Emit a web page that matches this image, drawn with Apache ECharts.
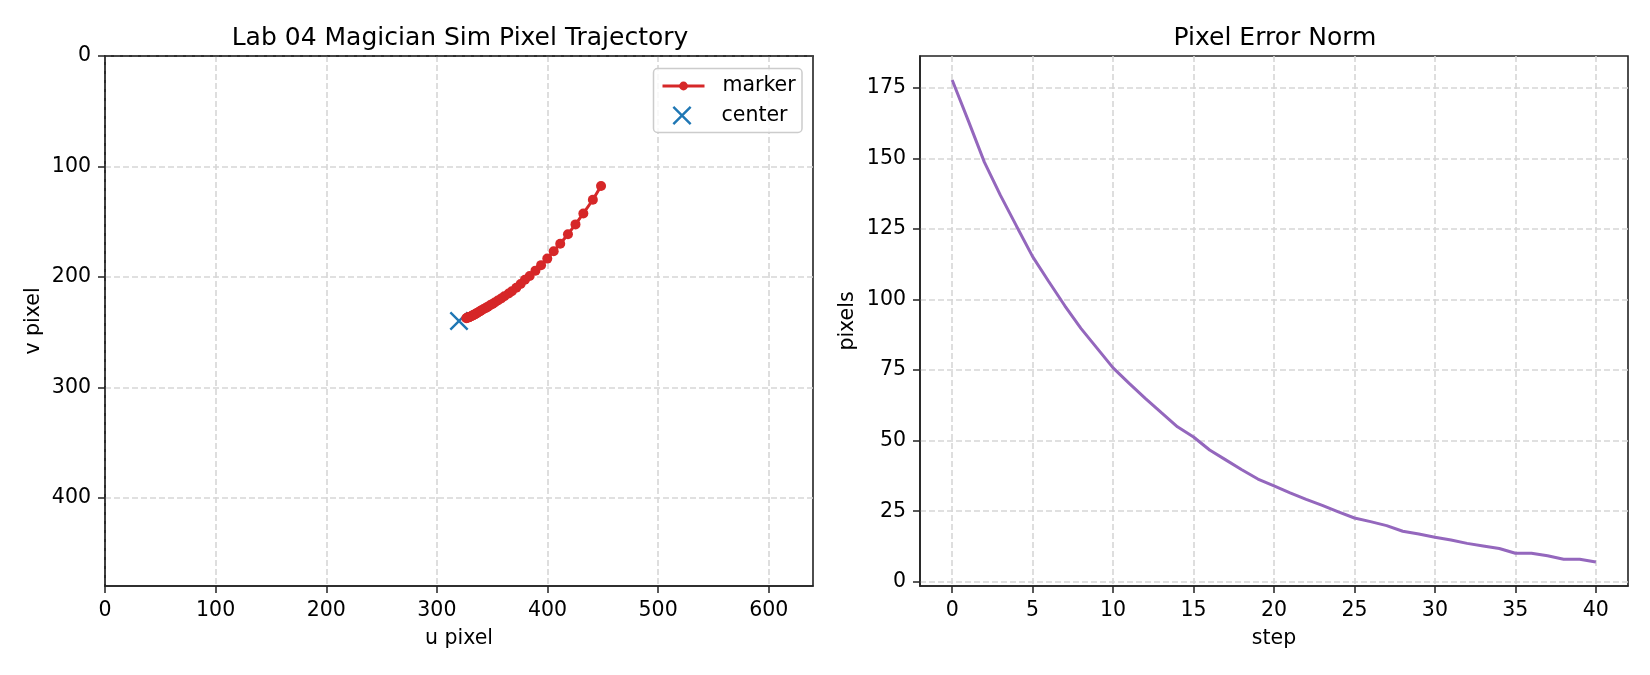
<!DOCTYPE html>
<html>
<head>
<meta charset="utf-8">
<script src="https://cdn.jsdelivr.net/npm/echarts@6/dist/echarts.min.js"></script>
<style>
  html, body { margin: 0; padding: 0; background: #fff; }
  #main { width: 1650px; height: 675px; }
</style>
</head>
<body>
<div id="main"></div>
<script>
// trajectory of the tracked marker in image pixels
var uPix = [448.4, 441.0, 432.4, 425.3, 418.5, 411.5, 405.6, 399.8, 394.2, 389.1, 383.9,
            379.6, 375.7, 371.8, 367.8, 364.9, 361.0, 358.1, 355.1, 352.3, 350.3,
            348.1, 346.1, 344.3, 342.3, 340.4, 339.3, 338.1, 336.4, 335.5, 334.5,
            333.6, 332.6, 331.8, 331.0, 329.4, 329.4, 328.6, 327.5, 327.5, 326.6];
var vPix = [117.7, 130.2, 142.6, 152.5, 161.4, 170.0, 176.9, 183.5, 189.4, 194.4, 199.2,
            202.7, 206.5, 209.9, 213.0, 215.1, 217.6, 219.6, 221.5, 223.2, 224.5,
            225.8, 227.0, 228.1, 229.2, 230.3, 231.0, 231.7, 232.7, 233.2, 233.8,
            234.3, 234.8, 235.2, 235.7, 236.3, 236.3, 236.7, 237.1, 237.1, 237.5];
var center = [320, 240];

// pixel error norm per step
var steps = [0, 1, 2, 3, 4, 5, 6, 7, 8, 9, 10, 11, 12, 13, 14, 15, 16, 17, 18, 19, 20,
             21, 22, 23, 24, 25, 26, 27, 28, 29, 30, 31, 32, 33, 34, 35, 36, 37, 38, 39, 40];
var errNorm = [177.8, 163.4, 148.7, 136.9, 126.0, 115.2, 106.4, 97.8, 89.8, 82.8, 75.8,
               70.3, 65.0, 59.9, 54.9, 51.3, 46.7, 43.2, 39.7, 36.4, 34.0,
               31.5, 29.2, 27.1, 24.8, 22.6, 21.3, 19.9, 17.9, 16.9, 15.8,
               14.8, 13.6, 12.7, 11.8, 10.1, 10.1, 9.2, 8.0, 8.0, 7.0];

// tick labels
var uTicks = [0, 100, 200, 300, 400, 500, 600];
var vTicks = [0, 100, 200, 300, 400];
var stepTicks = [0, 5, 10, 15, 20, 25, 30, 35, 40];
var errTicks = [0, 25, 50, 75, 100, 125, 150, 175];

var FONT = 'DejaVu Sans';
var INK = '#222';

function axisCommon(ticks) {
    return {
        axisLine: { show: true, onZero: false, lineStyle: { color: INK, width: 1.6 } },
        axisTick: { show: true, inside: false, length: 7, lineStyle: { color: INK, width: 1.5 }, customValues: ticks },
        axisLabel: { color: '#000', fontFamily: FONT, fontSize: 20.5, margin: 14, customValues: ticks },
        splitLine: { show: true, lineStyle: { color: '#d6d6d6', width: 1.6, type: [6, 3] } },
        nameLocation: 'middle',
        nameTextStyle: { color: '#000', fontFamily: FONT, fontSize: 20.5 }
    };
}

// plain frame edge drawn over the grid lines
function frameEdge(grid, pos) {
    return {
        gridIndex: grid, type: 'value', position: pos, z: 3,
        min: 0, max: 1,
        axisLine: { show: true, onZero: false, lineStyle: { color: INK, width: 1.6 } },
        axisTick: { show: false }, axisLabel: { show: false }, splitLine: { show: false }
    };
}

var myChart = echarts.init(document.getElementById('main'));

var trajData = uPix.map(function (u, i) { return [u, vPix[i]]; });
var errData = steps.map(function (s, i) { return [s, errNorm[i]]; });

var xSym = 'path://M0,0.9L0.9,0L10,9.1L9.1,10Z M9.1,0L10,0.9L0.9,10L0,9.1Z';

var legendBase = {
    orient: 'vertical',
    padding: 0,
    itemWidth: 42,
    z: 5,
    selectedMode: false,
    lineStyle: { width: 3 },
    textStyle: { fontFamily: FONT, fontSize: 20.5, lineHeight: 22, color: '#000', padding: [0, 0, 0, 13] }
};

var option = {
    animation: false,
    backgroundColor: '#fff',
    textStyle: { fontFamily: FONT },
    title: [
        { text: 'Lab 04 Magician Sim Pixel Trajectory', left: 455, top: 21, textAlign: 'center',
          textStyle: { fontFamily: FONT, fontSize: 25, fontWeight: 'normal', color: '#000' } },
        { text: 'Pixel Error Norm', left: 1270, top: 21, textAlign: 'center',
          textStyle: { fontFamily: FONT, fontSize: 25, fontWeight: 'normal', color: '#000' } }
    ],
    graphic: [{
        type: 'rect', z: 4,
        shape: { x: 653.5, y: 68.5, width: 148.5, height: 64, r: 4 },
        style: { fill: 'rgba(255,255,255,0.8)', stroke: '#cccccc', lineWidth: 1.5 }
    }],
    grid: [
        { left: 105, top: 56, width: 708, height: 530, show: true, borderColor: INK, borderWidth: 1.6 },
        { left: 920, top: 56, width: 708, height: 530, show: true, borderColor: INK, borderWidth: 1.6 }
    ],
    legend: [
        Object.assign({}, legendBase, { left: 661, top: 75, itemHeight: 11, data: ['marker'] }),
        Object.assign({}, legendBase, { left: 672.5, top: 104.5, itemHeight: 19, data: ['center'],
            textStyle: Object.assign({}, legendBase.textStyle, { padding: [0, 0, 0, 13.5] }) })
    ],
    xAxis: [
        Object.assign(axisCommon(uTicks), {
            gridIndex: 0, type: 'value', min: 0, max: 640, name: 'u pixel', nameGap: 42
        }),
        Object.assign(axisCommon(stepTicks), {
            gridIndex: 1, type: 'value', min: -2, max: 42, name: 'step', nameGap: 42
        }),
        frameEdge(0, 'top')
    ],
    yAxis: [
        Object.assign(axisCommon(vTicks), {
            gridIndex: 0, type: 'value', min: 0, max: 480, inverse: true, name: 'v pixel', nameGap: 61
        }),
        Object.assign(axisCommon(errTicks), {
            gridIndex: 1, type: 'value', min: -1.5, max: 186.3, name: 'pixels', nameGap: 62
        })
    ],
    series: [
        {
            name: 'marker', type: 'line', xAxisIndex: 0, yAxisIndex: 0,
            data: trajData, symbol: 'circle', symbolSize: 10, showSymbol: true, z: 3,
            lineStyle: { color: '#d62728', width: 3 },
            itemStyle: { color: '#d62728' }
        },
        {
            name: 'center', type: 'scatter', xAxisIndex: 0, yAxisIndex: 0,
            data: [center], symbol: xSym, symbolSize: 19, z: 2,
            itemStyle: { color: '#1f77b4', opacity: 1 }
        },
        {
            name: 'error', type: 'line', xAxisIndex: 1, yAxisIndex: 1,
            data: errData, showSymbol: false, symbol: 'none',
            lineStyle: { color: '#9467bd', width: 3 },
            itemStyle: { color: '#9467bd' }
        }
    ]
};

myChart.setOption(option);
</script>
</body>
</html>
